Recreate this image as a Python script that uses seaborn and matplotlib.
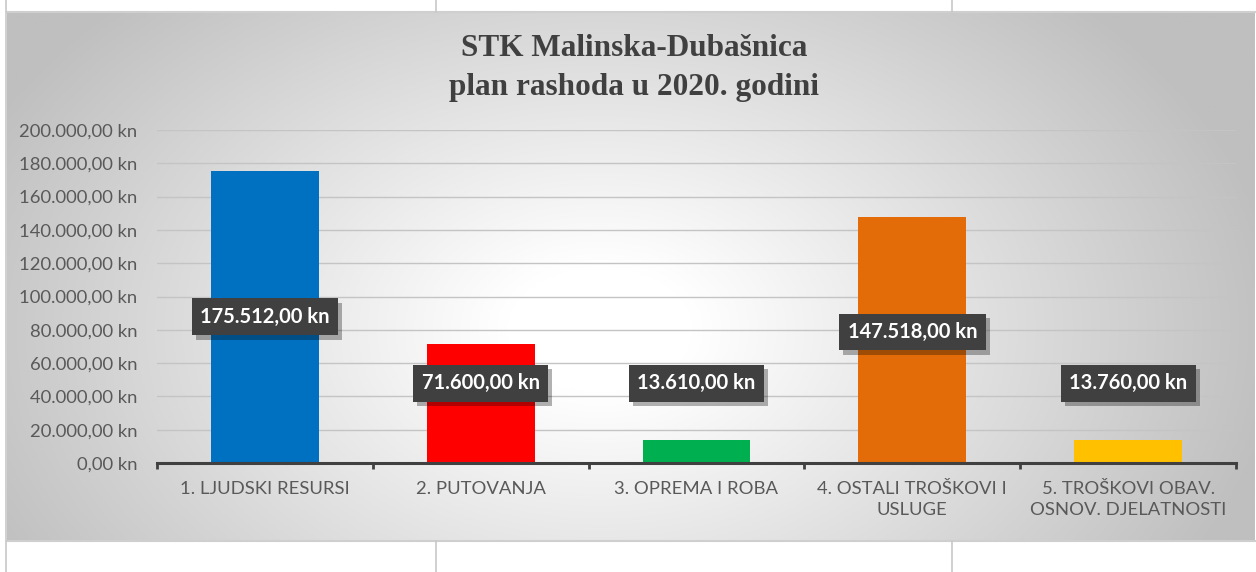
import numpy as np
import pandas as pd
import matplotlib
matplotlib.use("Agg")
import matplotlib.pyplot as plt
import matplotlib.patheffects as pe
from matplotlib.ticker import FixedLocator, FuncFormatter
import seaborn as sns

# ---- data ----
categories = ["1. LJUDSKI RESURSI", "2. PUTOVANJA", "3. OPREMA I ROBA",
              "4. OSTALI TROŠKOVI I\nUSLUGE", "5. TROŠKOVI OBAV.\nOSNOV. DJELATNOSTI"]
values = [175512, 71600, 13610, 147518, 13760]
label_y = [87756, 48000, 48000, 78700, 48000]
colors = ["#0070C0", "#FF0000", "#00B050", "#E36C09", "#FFC000"]
title = "STK Malinska-Dubašnica\nplan rashoda u 2020. godini"
yticks = [0, 20000, 40000, 60000, 80000, 100000, 120000, 140000, 160000, 180000, 200000]


def kn(v, decimals=2):
    s = f"{v:,.{decimals}f}"
    s = s.replace(",", "X").replace(".", ",").replace("X", ".")
    return s + " kn"


W, H = 1256, 572
fig = plt.figure(figsize=(W / 100, H / 100), dpi=100)
fig.patch.set_facecolor("white")

# ---- background (radial gradient chart area + table lines) ----
bg = fig.add_axes([0, 0, 1, 1], zorder=-5)
bg.set_xlim(0, W)
bg.set_ylim(H, 0)
bg.axis("off")
x0, x1, y0, y1 = 7, 1255, 12, 541
gx = np.linspace(x0, x1, 600)
gy = np.linspace(y0, y1, 300)
GX, GY = np.meshgrid(gx, gy)
cx, cy = 600, 330
r = np.sqrt(((GX - cx) / ((x1 - x0) / 2)) ** 2 + ((GY - cy) / ((y1 - y0) / 1.25)) ** 2)
t = np.clip((r - 0.15) / 0.95, 0, 1)
g = (255 - 64 * t) / 255.0
img = np.dstack([g, g, g])
bg.imshow(img, extent=(x0, x1, y1, y0), aspect="auto", interpolation="bilinear")
lc = "#c8c8c8"
bg.plot([x0, x1], [y0, y0], color="#cfcfcf", lw=1.5)
bg.plot([x0, x1], [y1, y1], color="#cfcfcf", lw=1.5)
bg.plot([6, 6], [0, H], color=lc, lw=1.2)
for xv in (436, 952):
    bg.plot([xv, xv], [0, y0], color=lc, lw=1.2)
    bg.plot([xv, xv], [y1, H], color=lc, lw=1.2)

# ---- title ----
fig.text(634 / W, 1 - 68 / H, title, ha="center", va="center",
         fontsize=22.5, fontweight="bold", family="Liberation Serif",
         color="#404040", linespacing=1.45)

# ---- main axes ----
left, right, top, bottom = 157, 1236, 130, 463
ax = fig.add_axes([left / W, 1 - bottom / H, (right - left) / W, (bottom - top) / H])
ax.set_facecolor("none")

df = pd.DataFrame({"cat": categories, "val": values})
sns.barplot(data=df, x="cat", y="val", hue="cat", palette=colors, width=0.5,
            legend=False, ax=ax, saturation=1, zorder=3)

ax.set_xlim(-0.5, len(categories) - 0.5)
ax.set_ylim(0, 200000)
ax.set_xlabel("")
ax.set_ylabel("")
ax.yaxis.set_major_locator(FixedLocator(yticks))
ax.yaxis.set_major_formatter(FuncFormatter(lambda v, p: kn(v)))
ax.grid(axis="y", color="#c4c4c4", lw=1.0, zorder=0)
ax.grid(axis="x", visible=False)
for s in ("left", "right", "top"):
    ax.spines[s].set_visible(False)
ax.spines["bottom"].set_color("#404040")
ax.spines["bottom"].set_linewidth(2.2)
ax.spines["bottom"].set_zorder(4)

ax.tick_params(axis="y", length=0, pad=14, labelsize=13.3, labelcolor="#595959")
ax.tick_params(axis="x", which="major", length=0, pad=13, labelsize=13.3,
               labelcolor="#595959")
ax.set_xticks(range(len(categories)))
ax.set_xticklabels(categories, family="Lato", linespacing=1.35)
for lab in ax.get_yticklabels():
    lab.set_family("Lato")
ax.xaxis.set_minor_locator(FixedLocator(np.arange(-0.5, len(categories), 1.0)))
ax.tick_params(axis="x", which="minor", length=4, width=2, color="#404040",
               direction="out")

# ---- data labels ----
for i, (v, ly) in enumerate(zip(values, label_y)):
    txt = ax.text(i, ly, kn(v), ha="center", va="center", fontsize=14.5,
                  fontweight="bold", family="Lato", color="white", zorder=6,
                  bbox=dict(boxstyle="square,pad=0.42", fc="#404040", ec="none"))
    txt.get_bbox_patch().set_path_effects(
        [pe.withSimplePatchShadow(offset=(3, -3), shadow_rgbFace="black", alpha=0.3)])

fig.savefig("out.png", dpi=100)
